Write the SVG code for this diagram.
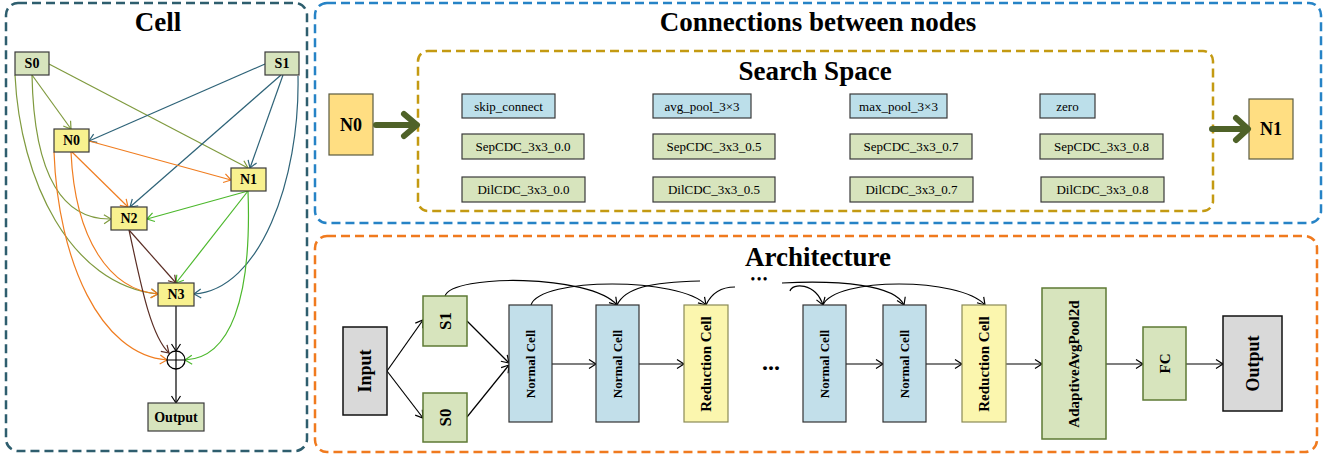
<svg xmlns="http://www.w3.org/2000/svg" width="1327" height="456" viewBox="0 0 1327 456">
  <style>
    text { font-family: "Liberation Serif", "Times New Roman", serif; fill: #000; }
    .title { font-size: 27px; font-weight: bold; text-anchor: middle; }
    .lbl { font-weight: bold; text-anchor: middle; dominant-baseline: central; }
    .op { font-size: 13px; text-anchor: middle; dominant-baseline: central; }
    .dots { font-weight: bold; text-anchor: middle; }
    .panel { fill: none; stroke-width: 2.5; stroke-dasharray: 9 5; }
    .green { fill: #D7E4BD; stroke: #3a3a3a; stroke-width: 1.2; }
    .yellow { fill: #F8F18F; stroke: #3a3a3a; stroke-width: 1.2; }
    .blue { fill: #BCDFEA; stroke: #3a3a3a; stroke-width: 1.2; }
    .gold { fill: #FFDE82; stroke: #5a5a40; stroke-width: 1.2; }
    .archg { fill: #D7E4BD; stroke: #5E7A35; stroke-width: 1.5; }
    .archb { fill: #C2DFEA; stroke: #333; stroke-width: 1.2; }
    .archy { fill: #FBF6AE; stroke: #8A8A55; stroke-width: 1.2; }
    .gray { fill: #D9D9D9; stroke: #111; stroke-width: 1.5; }
    .e { fill: none; stroke-width: 1.2; }
    .olive { stroke: #7F9A3E; marker-end: url(#mOlive); }
    .teal { stroke: #2E6378; marker-end: url(#mTeal); }
    .orange { stroke: #F07D20; marker-end: url(#mOrange); }
    .lgreen { stroke: #4CB82C; marker-end: url(#mGreen); }
    .brown { stroke: #5A2D24; marker-end: url(#mBrown); }
    .blk { stroke: #000; marker-end: url(#mBlack); }
    .plain { stroke: #000; }
    .thick { fill: none; stroke: #4F6228; stroke-width: 6; stroke-linecap: round; stroke-linejoin: round; }
  </style>
  <defs>
    <marker id="mOlive" markerUnits="userSpaceOnUse" markerWidth="12" markerHeight="12" refX="9" refY="6" orient="auto"><path d="M2,1.5 L9,6 L2,10.5" fill="none" stroke="#7F9A3E" stroke-width="1.2"/></marker>
    <marker id="mTeal" markerUnits="userSpaceOnUse" markerWidth="12" markerHeight="12" refX="9" refY="6" orient="auto"><path d="M2,1.5 L9,6 L2,10.5" fill="none" stroke="#2E6378" stroke-width="1.2"/></marker>
    <marker id="mOrange" markerUnits="userSpaceOnUse" markerWidth="12" markerHeight="12" refX="9" refY="6" orient="auto"><path d="M2,1.5 L9,6 L2,10.5" fill="none" stroke="#F07D20" stroke-width="1.2"/></marker>
    <marker id="mGreen" markerUnits="userSpaceOnUse" markerWidth="12" markerHeight="12" refX="9" refY="6" orient="auto"><path d="M2,1.5 L9,6 L2,10.5" fill="none" stroke="#4CB82C" stroke-width="1.2"/></marker>
    <marker id="mBrown" markerUnits="userSpaceOnUse" markerWidth="12" markerHeight="12" refX="9" refY="6" orient="auto"><path d="M2,1.5 L9,6 L2,10.5" fill="none" stroke="#5A2D24" stroke-width="1.2"/></marker>
    <marker id="mBlack" markerUnits="userSpaceOnUse" markerWidth="12" markerHeight="12" refX="9" refY="6" orient="auto"><path d="M2,1.5 L9,6 L2,10.5" fill="none" stroke="#000" stroke-width="1.2"/></marker>
  </defs>

  <!-- panels -->
  <g id="panels">
    <rect class="panel" x="6" y="3" width="301" height="448" rx="12" stroke="#2E5E6E"/>
    <rect class="panel" x="315" y="3" width="1006" height="220" rx="12" stroke="#2683C6"/>
    <rect class="panel" x="418" y="51" width="795" height="160" rx="10" stroke="#C49A12" stroke-width="2.2"/>
    <rect class="panel" x="315" y="236" width="1002" height="216" rx="12" stroke="#F07A1E"/>
    <text class="title" x="158" y="31">Cell</text>
    <text class="title" x="818" y="31">Connections between nodes</text>
    <text class="title" x="815" y="80">Search Space</text>
    <text class="title" x="818" y="266">Architecture</text>
  </g>

  <!-- cell graph connectors -->
  <g id="cell-connectors">
    <path class="e olive" d="M32,75 L71,129"/>
    <path class="e olive" d="M49,64 L248,168"/>
    <path class="e olive" d="M32,75 C34,180 65,220 111,219"/>
    <path class="e olive" d="M15,75 C20,180 70,285 158,294"/>
    <path class="e teal" d="M265,64 L89,141"/>
    <path class="e teal" d="M281,75 L130,207"/>
    <path class="e teal" d="M283,75 L250,168"/>
    <path class="e teal" d="M298,76 C300,180 260,290 194,294"/>
    <path class="e orange" d="M89,141 L231,180"/>
    <path class="e orange" d="M72,152 L128,207"/>
    <path class="e orange" d="M71,152 C75,240 110,290 158,294"/>
    <path class="e orange" d="M54,152 C58,260 100,355 167,360"/>
    <path class="e lgreen" d="M248,191 L147,219"/>
    <path class="e lgreen" d="M248,191 L176,283"/>
    <path class="e lgreen" d="M248,191 C252,300 230,358 185,360"/>
    <path class="e brown" d="M129,230 L176,283"/>
    <path class="e brown" d="M129,230 C140,280 150,335 169,353"/>
    <path class="e blk" d="M176,306 L176,351"/>
    <path class="e blk" d="M176,369 L176,403"/>
  </g>

  <!-- cell graph nodes -->
  <g id="cell-S0"><rect class="green" x="15" y="52" width="34" height="23"/><text class="lbl" x="32" y="63.5" font-size="14">S0</text></g>
  <g id="cell-S1"><rect class="green" x="265" y="52" width="34" height="23"/><text class="lbl" x="282" y="63.5" font-size="14">S1</text></g>
  <g id="cell-N0"><rect class="yellow" x="54" y="129" width="35" height="23"/><text class="lbl" x="71.5" y="140.5" font-size="14">N0</text></g>
  <g id="cell-N1"><rect class="yellow" x="231" y="168" width="35" height="23"/><text class="lbl" x="248.5" y="179.5" font-size="14">N1</text></g>
  <g id="cell-N2"><rect class="yellow" x="111" y="207" width="36" height="23"/><text class="lbl" x="129" y="218.5" font-size="14">N2</text></g>
  <g id="cell-N3"><rect class="yellow" x="158" y="283" width="36" height="23"/><text class="lbl" x="176" y="294.5" font-size="14">N3</text></g>
  <g id="cell-sum">
    <circle cx="176" cy="360" r="9" fill="#fff" stroke="#000" stroke-width="1.3"/>
    <path d="M167,360 H185 M176,351 V369" stroke="#000" stroke-width="1.2"/>
  </g>
  <g id="cell-output"><rect class="green" x="148" y="403" width="56" height="28"/><text class="lbl" x="176" y="417" font-size="14">Output</text></g>

  <!-- search space -->
  <g id="ss-N0"><rect class="gold" x="329" y="94" width="44" height="61"/><text class="lbl" x="351" y="124.5" font-size="18">N0</text></g>
  <g id="ss-N1"><rect class="gold" x="1249" y="99" width="44" height="60"/><text class="lbl" x="1271" y="129" font-size="18">N1</text></g>
  <g id="ss-connectors">
    <path class="thick" d="M376,125 H416 M404,114 L417,125 L404,136"/>
    <path class="thick" d="M1212,129 H1247 M1236,118 L1248,129 L1236,140"/>
  </g>
  <g id="ops">
    <g id="op-skip"><rect class="blue" x="462" y="94" width="93" height="24"/><text class="op" x="508.5" y="106">skip_connect</text></g>
    <g id="op-avg"><rect class="blue" x="653" y="94" width="98" height="24"/><text class="op" x="702" y="106">avg_pool_3×3</text></g>
    <g id="op-max"><rect class="blue" x="850" y="94" width="97" height="24"/><text class="op" x="898.5" y="106">max_pool_3×3</text></g>
    <g id="op-zero"><rect class="blue" x="1040" y="94" width="55" height="24"/><text class="op" x="1067.5" y="106">zero</text></g>
    <g id="op-sep00"><rect class="green" x="462" y="134" width="122" height="25"/><text class="op" x="523" y="146.5">SepCDC_3x3_0.0</text></g>
    <g id="op-sep05"><rect class="green" x="653" y="134" width="122" height="25"/><text class="op" x="714" y="146.5">SepCDC_3x3_0.5</text></g>
    <g id="op-sep07"><rect class="green" x="850" y="134" width="122" height="25"/><text class="op" x="911" y="146.5">SepCDC_3x3_0.7</text></g>
    <g id="op-sep08"><rect class="green" x="1040" y="134" width="123" height="25"/><text class="op" x="1101.5" y="146.5">SepCDC_3x3_0.8</text></g>
    <g id="op-dil00"><rect class="green" x="462" y="177" width="123" height="25"/><text class="op" x="523.5" y="189.5">DilCDC_3x3_0.0</text></g>
    <g id="op-dil05"><rect class="green" x="653" y="177" width="122" height="25"/><text class="op" x="714" y="189.5">DilCDC_3x3_0.5</text></g>
    <g id="op-dil07"><rect class="green" x="850" y="177" width="123" height="25"/><text class="op" x="911.5" y="189.5">DilCDC_3x3_0.7</text></g>
    <g id="op-dil08"><rect class="green" x="1041" y="177" width="123" height="25"/><text class="op" x="1102.5" y="189.5">DilCDC_3x3_0.8</text></g>
  </g>

  <!-- architecture connectors -->
  <g id="arch-connectors">
    <path class="e blk" d="M387,371 L423,320"/>
    <path class="e blk" d="M387,371 L423,418"/>
    <path class="e blk" d="M467,321 L509,363"/>
    <path class="e blk" d="M467,417 L509,365"/>
    <path class="e blk" d="M552,364 H596"/>
    <path class="e blk" d="M639,364 H684"/>
    <path class="e blk" d="M846,364 H883"/>
    <path class="e blk" d="M926,364 H962"/>
    <path class="e blk" d="M1006,364 H1042"/>
    <path class="e blk" d="M1106,364 H1143"/>
    <path class="e blk" d="M1186,364 H1223"/>
    <path class="e blk" d="M445,296 C452,274 590,274 617,305"/>
    <path class="e blk" d="M531,305 C540,277 680,277 706,305"/>
    <path class="e plain" d="M617,305 C625,288 650,282 700,281"/>
    <path class="e plain" d="M706,305 C712,292 722,287 735,287"/>
    <path class="e blk" d="M782,283 C840,280 895,285 904,305"/>
    <path class="e blk" d="M790,291 C792,283 815,282 823,305"/>
    <path class="e blk" d="M823,305 C835,277 960,277 985,305"/>
  </g>

  <!-- architecture nodes -->
  <g id="arch-input"><rect class="gray" x="343" y="327" width="44" height="88"/><text class="lbl" font-size="18" x="365" y="371" transform="rotate(-90 365 371)">Input</text></g>
  <g id="arch-S1"><rect class="archg" x="423" y="296" width="44" height="50"/><text class="lbl" font-size="17" x="445" y="321" transform="rotate(-90 445 321)">S1</text></g>
  <g id="arch-S0"><rect class="archg" x="423" y="393" width="44" height="49"/><text class="lbl" font-size="17" x="445" y="417.5" transform="rotate(-90 445 417.5)">S0</text></g>
  <g id="arch-nc1"><rect class="archb" x="509" y="305" width="43" height="117"/><text class="lbl" font-size="13" x="530.5" y="364" transform="rotate(-90 530.5 364)">Normal Cell</text></g>
  <g id="arch-nc2"><rect class="archb" x="596" y="305" width="43" height="117"/><text class="lbl" font-size="13" x="617.5" y="364" transform="rotate(-90 617.5 364)">Normal Cell</text></g>
  <g id="arch-rc1"><rect class="archy" x="684" y="305" width="44" height="117"/><text class="lbl" font-size="15" x="706" y="364" transform="rotate(-90 706 364)">Reduction Cell</text></g>
  <g id="arch-dots">
    <text class="dots" font-size="12" x="760" y="283" letter-spacing="2">•••</text>
    <text class="dots" font-size="24" x="771" y="370">...</text>
  </g>
  <g id="arch-nc3"><rect class="archb" x="803" y="305" width="43" height="117"/><text class="lbl" font-size="13" x="824.5" y="364" transform="rotate(-90 824.5 364)">Normal Cell</text></g>
  <g id="arch-nc4"><rect class="archb" x="883" y="305" width="43" height="117"/><text class="lbl" font-size="13" x="904.5" y="364" transform="rotate(-90 904.5 364)">Normal Cell</text></g>
  <g id="arch-rc2"><rect class="archy" x="962" y="305" width="44" height="117"/><text class="lbl" font-size="15" x="984" y="364" transform="rotate(-90 984 364)">Reduction Cell</text></g>
  <g id="arch-pool"><rect class="archg" x="1042" y="288" width="64" height="151"/><text class="lbl" font-size="15" x="1074" y="364" transform="rotate(-90 1074 364)">AdaptiveAvgPool2d</text></g>
  <g id="arch-fc"><rect class="archg" x="1143" y="327" width="43" height="73"/><text class="lbl" font-size="15" x="1164.5" y="363.5" transform="rotate(-90 1164.5 363.5)">FC</text></g>
  <g id="arch-output"><rect class="gray" x="1223" y="316" width="59" height="95"/><text class="lbl" font-size="18" x="1252.5" y="363.5" transform="rotate(-90 1252.5 363.5)">Output</text></g>
</svg>
